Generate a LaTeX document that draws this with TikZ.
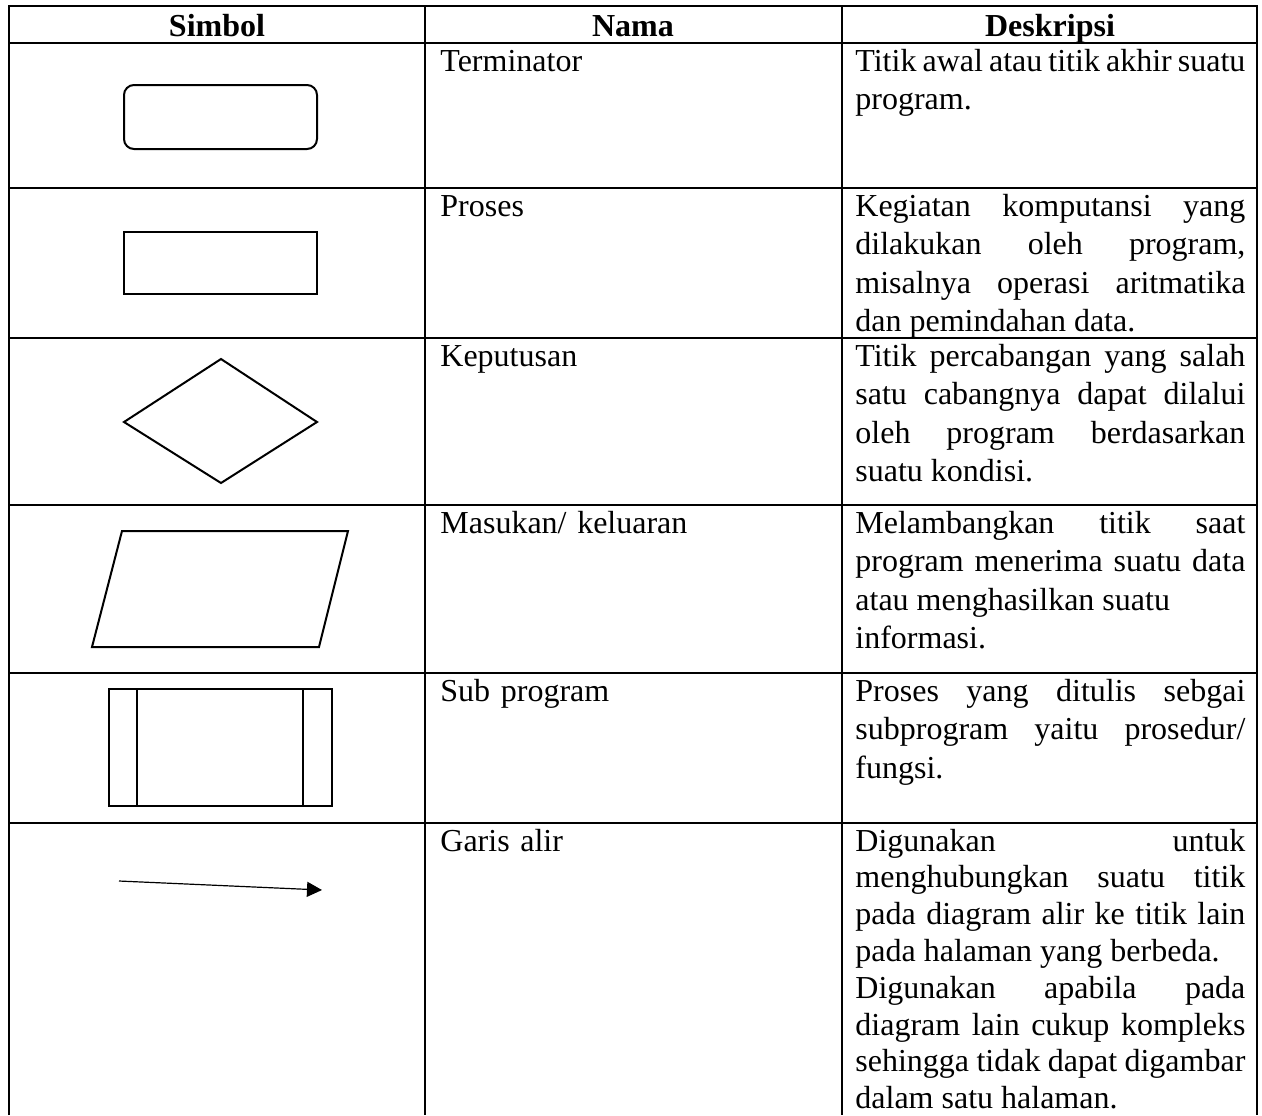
\documentclass[tikz,border=0pt]{standalone}
\usepackage{fontspec}
\setmainfont{Liberation Serif}
\usetikzlibrary{arrows.meta}
\setlength{\parindent}{0pt}
\tikzset{
  garis/.style={line width=1.2pt},
  bentuk/.style={line width=1pt},
  judul/.style={anchor=base,inner sep=0pt,font=\fontsize{16}{19.2}\selectfont\bfseries},
  nama/.style={anchor=north west,inner sep=0pt,text width=193pt,align=left,font=\fontsize{16}{19.2}\selectfont},
  desk/.style={anchor=north west,inner sep=0pt,text width=195pt,align=justify,font=\fontsize{16}{19.2}\selectfont}
}
\begin{document}
\begin{tikzpicture}[x=0.5pt,y=-0.5pt]
         \useasboundingbox (0,0) rectangle (1262,1115);
         %tabel
         \draw[garis] (9,1115) -- (9,6) -- (1257,6) -- (1257,1115);
         \foreach \y in {43,188,338,505,673,823}
            \draw[garis] (9,\y) -- (1257,\y);
         \foreach \x in {425,842}
            \draw[garis] (\x,6) -- (\x,1115);
         %judul kolom
         \node[judul] (hsimbol) at (217,36) {Simbol};
         \node[judul] (hnama) at (633,36) {Nama};
         \node[judul] (hdesk) at (1050,36) {Deskripsi};
         %simbol
         \draw[bentuk, rounded corners=5pt] (124,85) rectangle (317,149);
         \draw[bentuk] (124,232) rectangle (317,294);
         \draw[bentuk] (124,422) -- (221,359) -- (317,422) -- (221,483) -- cycle;
         \draw[bentuk] (122,531) -- (348,531) -- (319,647) -- (92,647) -- cycle;
         \draw[bentuk] (109,689) rectangle (332,806);
         \draw[bentuk] (137,689) -- (137,806);
         \draw[bentuk] (303,689) -- (303,806);
         \coordinate (awal) at (119,881);
         \coordinate (ujung) at (322,890);
         \draw[line width=0.6pt, -{Triangle[length=7.5pt,width=7.5pt]}] (awal) -- (ujung);
         %nama
         \node[nama] (n1) at (440,44) {\strut Terminator};
         \node[nama] (n2) at (440,189) {\strut Proses};
         \node[nama] (n3) at (440,339) {\strut Keputusan};
         \node[nama] (n4) at (440,506) {\strut Masukan/ keluaran};
         \node[nama] (n5) at (440,674) {\strut Sub program};
         \node[nama] (n6) at (440,824) {\strut Garis alir};
         %deskripsi
         \node[desk] (d1) at (855,44) {\strut Titik awal atau titik akhir suatu\linebreak program.};
         \node[desk] (d2) at (855,189) {\strut Kegiatan komputansi yang\linebreak
            dilakukan oleh program,\linebreak misalnya operasi aritmatika\linebreak
            dan pemindahan data.};
         \node[desk] (d3) at (855,339) {\strut Titik percabangan yang salah\linebreak
            satu cabangnya dapat dilalui\linebreak oleh program berdasarkan\linebreak
            suatu kondisi.};
         \node[desk] (d4) at (855,506) {\strut Melambangkan titik saat\linebreak
            program menerima suatu data\linebreak atau menghasilkan suatu\newline
            informasi.};
         \node[desk] (d5) at (855,674) {\strut Proses yang ditulis sebgai\linebreak
            subprogram yaitu prosedur/\linebreak fungsi.};
         \node[desk, font=\fontsize{16}{18.4}\selectfont] (d6) at (855,825) {\strut Digunakan untuk\linebreak
            menghubungkan suatu titik\linebreak pada diagram alir ke titik lain\linebreak
            pada halaman yang berbeda.\newline Digunakan apabila pada\linebreak
            diagram lain cukup kompleks\linebreak sehingga tidak dapat digambar\linebreak
            dalam satu halaman.};
\end{tikzpicture}
\end{document}
